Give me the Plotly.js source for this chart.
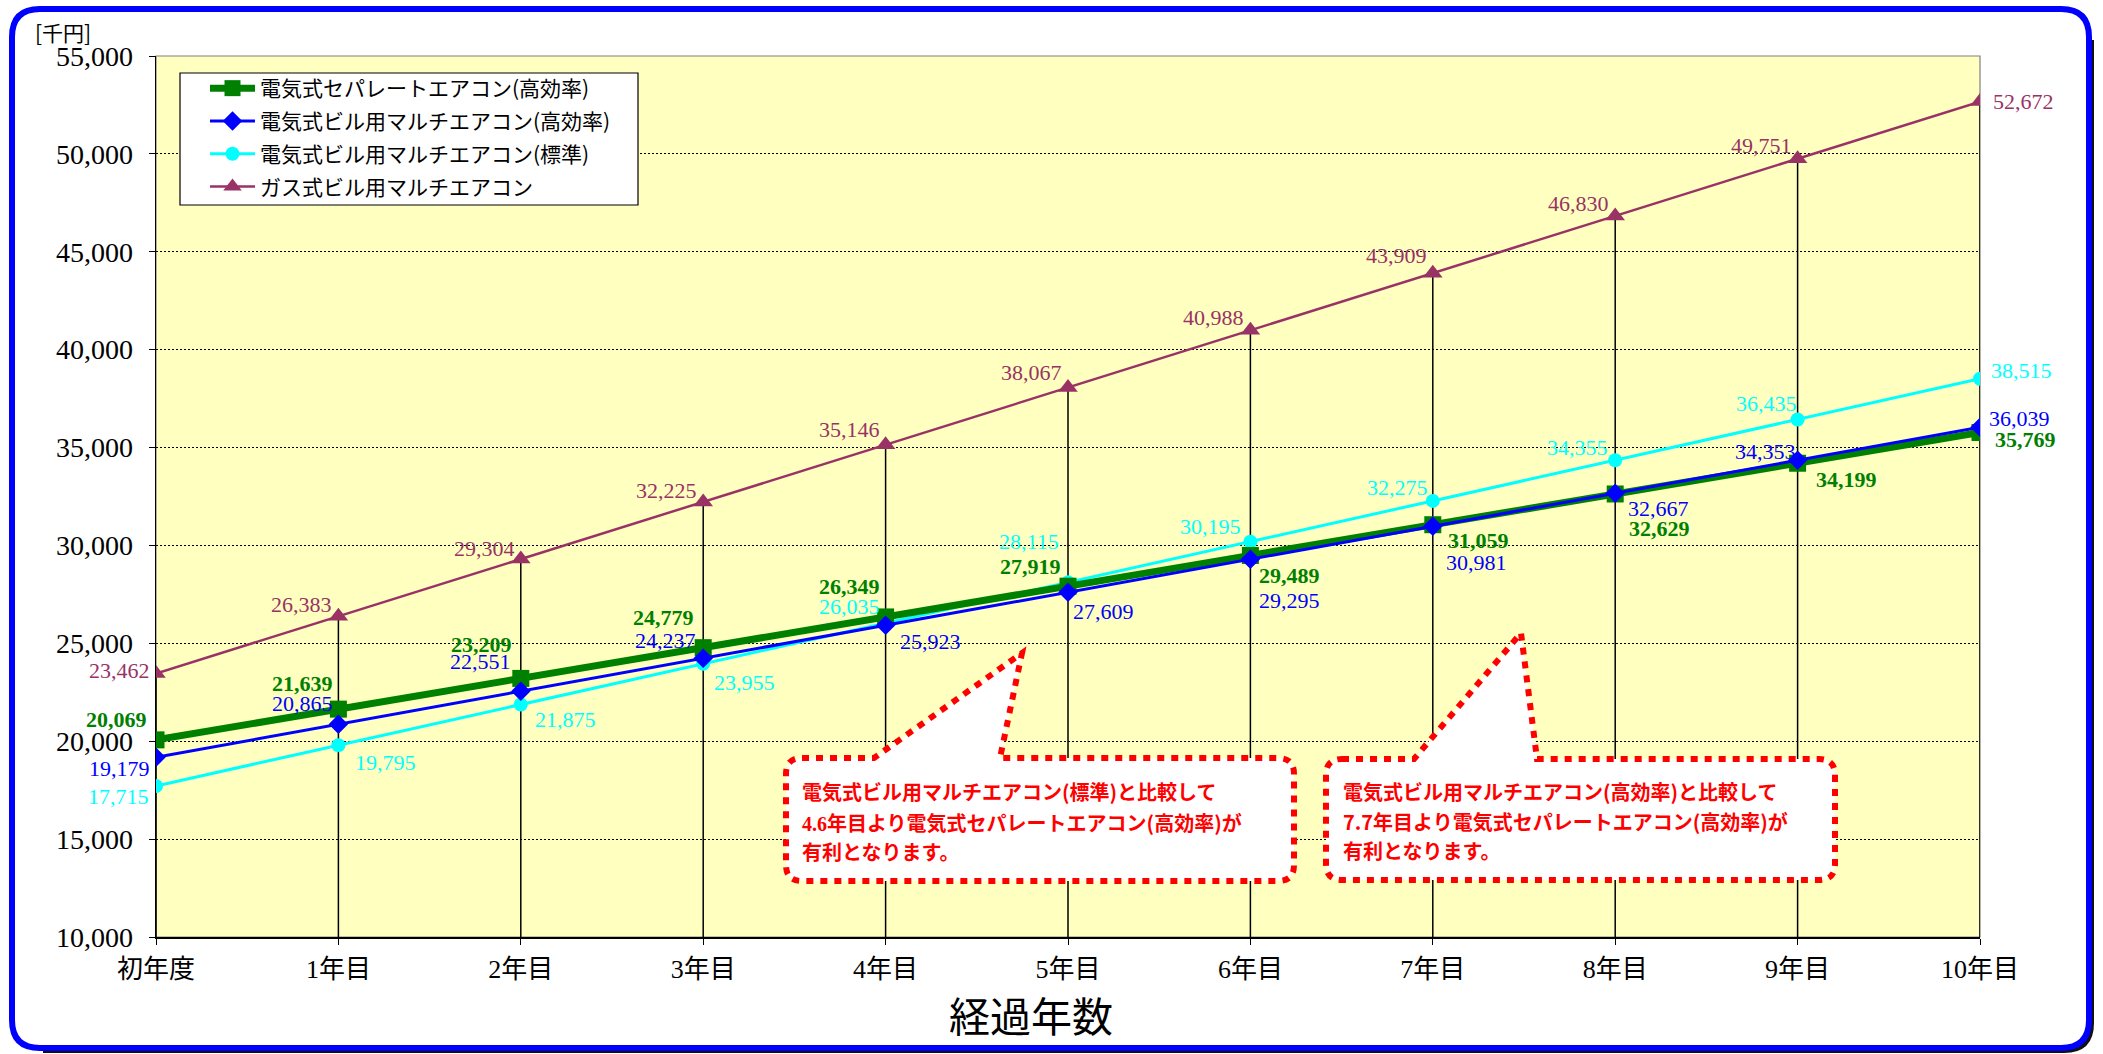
<!DOCTYPE html>
<html><head><meta charset="utf-8">
<script src="https://cdn.plot.ly/plotly-3.0.1.min.js"></script>
<style>html,body{margin:0;padding:0;background:#fff;}#chart{width:2103px;height:1054px;}</style>
</head><body><div id="chart"></div>
<script>
// ---------- data ----------
const categories = ['初年度','1年目','2年目','3年目','4年目','5年目','6年目','7年目','8年目','9年目','10年目'];
const seriesNames = ['電気式セパレートエアコン(高効率)','電気式ビル用マルチエアコン(高効率)','電気式ビル用マルチエアコン(標準)','ガス式ビル用マルチエアコン'];
const sepHigh  = [20069,21639,23209,24779,26349,27919,29489,31059,32629,34199,35769];
const bldgHigh = [19179,20865,22551,24237,25923,27609,29295,30981,32667,34353,36039];
const bldgStd  = [17715,19795,21875,23955,26035,28115,30195,32275,34355,36435,38515];
const gasBldg  = [23462,26383,29304,32225,35146,38067,40988,43909,46830,49751,52672];
const yAxisMin = 10000, yAxisMax = 55000, yStep = 5000;
const yUnit = '[千円]';
const xTitle = '経過年数';
const note1 = ['電気式ビル用マルチエアコン(標準)と比較して','<span style="font-family:Liberation Serif">4.6</span>年目より電気式セパレートエアコン(高効率)が','有利となります。'];
const note2 = ['電気式ビル用マルチエアコン(高効率)と比較して','7.7年目より電気式セパレートエアコン(高効率)が','有利となります。'];

// ---------- label placement (style only): [side, xshift px, dy px (down +)] ----------
const sepHighLbl  = [['L',-7,-20],['L',-3,-26],['L',-7,-34],['L',-7,-30],['L',-4,-30],['L',-5,-20],['R',7,20],['R',13,16],['R',12,35],['R',16,16],['R',13,7]];
const bldgHighLbl = [['L',-4,11],['L',-3,-21],['L',-8,-30],['L',-5,-18],['R',12,16],['R',3,19],['R',7,41],['R',11,36],['R',11,15],['L',0,-9],['R',7,-9]];
const bldgStdLbl  = [['L',-5,11],['R',15,17],['R',12,15],['R',9,19],['L',-4,-17],['L',-7,-41],['L',-7,-15],['L',-3,-13],['L',-5,-13],['L',1,-16],['R',9,-8]];
const gasLbl      = [['L',-4,-3],['L',-4,-12],['L',-4,-11],['L',-4,-11],['L',-4,-15],['L',-4,-15],['L',-4,-13],['L',-4,-18],['L',-4,-12],['L',-4,-13],['R',11,0]];

// ---------- geometry ----------
const W = 2103, H = 1054;
const M = {l:156, r:123, t:56, b:117};
const PW = W - M.l - M.r, PH = H - M.t - M.b;
const px = x => (x - M.l) / PW;
const py = y => (H - M.b - y) / PH;

const C_GREEN = '#008000', C_BLUE = '#0000FF', C_CYAN = '#00FFFF', C_GAS = '#993366';
const SERIF = 'Liberation Serif, Times New Roman, serif';
const GOTHIC = 'Noto Sans CJK JP, sans-serif';

const fmt = v => v.toLocaleString('en-US');

const traces = [
  {x: categories, y: gasBldg, name: seriesNames[3], legendrank: 4, legendgroup: 'g4', type: 'scatter', mode: 'lines+markers',
   line: {color: C_GAS, width: 2.5}, marker: {symbol: 'triangle-up', size: 17, color: C_GAS},
   error_y: {type: 'data', symmetric: false, array: gasBldg.map(() => 0), arrayminus: gasBldg.map(v => v - yAxisMin),
             width: 0, thickness: 1.5, color: '#000000'}},
  {x: categories, y: bldgStd, name: seriesNames[2], legendrank: 3, legendgroup: 'g3', type: 'scatter', mode: 'lines+markers',
   line: {color: C_CYAN, width: 3}, marker: {symbol: 'circle', size: 14, color: C_CYAN}},
  {x: categories, y: sepHigh, name: seriesNames[0], legendrank: 1, legendgroup: 'g1', type: 'scatter', mode: 'lines+markers',
   line: {color: C_GREEN, width: 7}, marker: {symbol: 'square', size: 17, color: C_GREEN}},
  {x: categories, y: bldgHigh, name: seriesNames[1], legendrank: 2, legendgroup: 'g2', type: 'scatter', mode: 'lines+markers',
   line: {color: C_BLUE, width: 3}, marker: {symbol: 'diamond', size: 15, color: C_BLUE}}
];

const annotations = [];
function addLabels(vals, lbl, color, bold) {
  vals.forEach((v, i) => {
    const [side, xs, dy] = lbl[i];
    annotations.push({x: i, y: v, xref: 'x', yref: 'y', text: fmt(v), showarrow: false,
      xanchor: side === 'L' ? 'right' : 'left', yanchor: 'middle', xshift: xs, yshift: -dy,
      font: {family: SERIF, size: 22, color: color, weight: bold ? 'bold' : 'normal'}});
  });
}
addLabels(gasBldg, gasLbl, C_GAS, false);
addLabels(bldgStd, bldgStdLbl, C_CYAN, false);
addLabels(bldgHigh, bldgHighLbl, C_BLUE, false);
addLabels(sepHigh, sepHighLbl, C_GREEN, true);

// unit and axis title
annotations.push({x: px(63), y: py(32), xref: 'paper', yref: 'paper', text: yUnit, showarrow: false,
  xanchor: 'center', yanchor: 'middle', font: {family: GOTHIC, size: 21, color: '#000'}});
annotations.push({x: px(1031), y: py(1014), xref: 'paper', yref: 'paper', text: xTitle, showarrow: false,
  xanchor: 'center', yanchor: 'middle', font: {family: GOTHIC, size: 41, color: '#000'}});

// callout texts
function addNote(lines, left, ys) {
  lines.forEach((t, k) => annotations.push({x: px(left), y: py(ys[k]), xref: 'paper', yref: 'paper', text: t,
    showarrow: false, xanchor: 'left', yanchor: 'middle',
    font: {family: GOTHIC, size: 20, color: '#FF0000', weight: 'bold'}}));
}
addNote(note1, 800, [791, 822, 851]);
addNote(note2, 1341, [791, 821, 850]);

// shapes
function bubble(l, t, r, b, rad, bx1, tipx, tipy, bx2) {
  const P = (x, y) => `${px(x)},${py(y)}`;
  return `M ${P(l+rad,t)} L ${P(bx1,t)} L ${P(tipx,tipy)} L ${P(bx2,t)} L ${P(r-rad,t)} Q ${P(r,t)} ${P(r,t+rad)} ` +
         `L ${P(r,b-rad)} Q ${P(r,b)} ${P(r-rad,b)} L ${P(l+rad,b)} Q ${P(l,b)} ${P(l,b-rad)} L ${P(l,t+rad)} Q ${P(l,t)} ${P(l+rad,t)} Z`;
}
function roundRect(l, t, r, b, rad) {
  const P = (x, y) => `${px(x)},${py(y)}`;
  return `M ${P(l+rad,t)} L ${P(r-rad,t)} Q ${P(r,t)} ${P(r,t+rad)} L ${P(r,b-rad)} Q ${P(r,b)} ${P(r-rad,b)} ` +
         `L ${P(l+rad,b)} Q ${P(l,b)} ${P(l,b-rad)} L ${P(l,t+rad)} Q ${P(l,t)} ${P(l+rad,t)} Z`;
}
function shadowPath(l, t, r, b, rad, o) {
  const P = (x, y) => `${px(x)},${py(y)}`;
  return `M ${P(r+o,t+rad+o)} L ${P(r+o,b-rad+o)} Q ${P(r+o,b+o)} ${P(r-rad+o,b+o)} L ${P(l+rad+o,b+o)}`;
}

const shapes = [
  {type: 'rect', xref: 'paper', yref: 'paper', x0: 0, x1: 1, y0: 0, y1: 1, line: {color: '#808080', width: 1.2}, layer: 'below'},
  {type: 'rect', xref: 'paper', yref: 'paper', x0: px(180), x1: px(638), y0: py(205), y1: py(73),
   fillcolor: '#FFFFFF', line: {color: '#000000', width: 1.2}, layer: 'above'},
  {type: 'path', xref: 'paper', yref: 'paper', path: bubble(786, 758, 1294, 881, 16, 874, 1022, 653, 1000),
   fillcolor: '#FFFFFF', line: {color: '#FF0000', width: 6, dash: '7px,7px'}, layer: 'above'},
  {type: 'path', xref: 'paper', yref: 'paper', path: bubble(1326, 759, 1835, 880, 16, 1414, 1521, 633, 1537),
   fillcolor: '#FFFFFF', line: {color: '#FF0000', width: 6, dash: '7px,7px'}, layer: 'above'},
  {type: 'path', xref: 'paper', yref: 'paper', path: shadowPath(12, 9, 2089, 1048, 28, 3),
   line: {color: '#111111', width: 4}, layer: 'above'},
  {type: 'path', xref: 'paper', yref: 'paper', path: roundRect(12, 9, 2089, 1048, 28),
   line: {color: '#0000FF', width: 6}, layer: 'above'}
];

const tickVals = [];
for (let v = yAxisMin; v <= yAxisMax; v += yStep) tickVals.push(v);

const layout = {
  width: W, height: H,
  margin: M,
  paper_bgcolor: '#FFFFFF', plot_bgcolor: '#FFFFC0',
  showlegend: true,
  legend: {x: px(205), y: py(68), xanchor: 'left', yanchor: 'top', bgcolor: 'rgba(0,0,0,0)', borderwidth: 0,
           traceorder: 'grouped', tracegroupgap: 2.5, itemwidth: 45, font: {family: GOTHIC, size: 21, color: '#000'}},
  xaxis: {type: 'category', range: [0, categories.length - 1], showgrid: false, zeroline: false,
          showline: true, linecolor: '#000', linewidth: 1.5, ticks: 'outside', ticklen: 6, tickcolor: '#000',
          tickfont: {family: 'Liberation Serif, Noto Sans CJK JP, serif', size: 26, color: '#000'},
          ticklabelstandoff: 2},
  yaxis: {range: [yAxisMin, yAxisMax], tickvals: tickVals, tickformat: ',d', showgrid: true,
          gridcolor: '#000000', gridwidth: 1, griddash: '2px,2px', zeroline: false,
          showline: true, linecolor: '#000', linewidth: 1.5, ticks: 'outside', ticklen: 6, tickcolor: '#000',
          tickfont: {family: SERIF, size: 28, color: '#000'}, ticklabelstandoff: 10},
  annotations: annotations,
  shapes: shapes
};

Plotly.newPlot('chart', traces, layout, {staticPlot: true});
</script></body></html>
